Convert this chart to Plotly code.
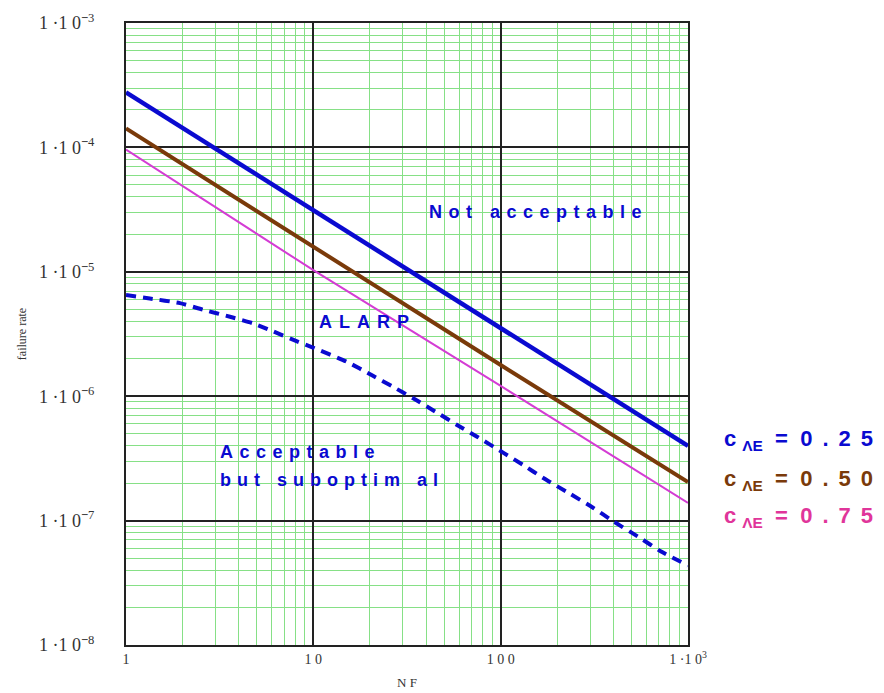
import plotly.graph_objects as go

# ---- data ----
nf_solid = [1, 10, 100, 1000]
rate_025 = [2.77e-4, 3.13e-5, 3.50e-6, 3.98e-7]
rate_050 = [1.42e-4, 1.58e-5, 1.78e-6, 2.04e-7]
rate_075 = [9.6e-5, 1.03e-5, 1.21e-6, 1.39e-7]

nf_dash = [1, 1.34, 1.94, 2.58, 3.59, 4.77, 6.10, 8.19, 9.96, 15.1, 20.8, 26.6, 34.1,
           45.8, 58.5, 74.8, 103, 132, 168, 235, 311, 398, 555, 710, 1000]
rate_dash = [6.5e-6, 6.1e-6, 5.6e-6, 4.95e-6, 4.35e-6, 3.85e-6, 3.32e-6, 2.76e-6, 2.46e-6,
             1.89e-6, 1.46e-6, 1.19e-6, 9.62e-7, 7.37e-7, 5.87e-7, 4.73e-7, 3.52e-7,
             2.80e-7, 2.21e-7, 1.64e-7, 1.27e-7, 9.9e-8, 7.25e-8, 5.7e-8, 4.35e-8]

x_tickvals = [1, 10, 100, 1000]
x_ticktext = ["1", "1 0", "1 0 0", "1 ·1 0<sup>3</sup>"]
y_tickvals = [1e-8, 1e-7, 1e-6, 1e-5, 1e-4, 1e-3]
y_ticktext = ["1 ·1 0<sup><b>−</b>8</sup>", "1 ·1 0<sup><b>−</b>7</sup>", "1 ·1 0<sup><b>−</b>6</sup>",
              "1 ·1 0<sup><b>−</b>5</sup>", "1 ·1 0<sup><b>−</b>4</sup>", "1 ·1 0<sup><b>−</b>3</sup>"]

legend_labels = ["0.25", "0.50", "0.75"]

BLUE = "#0a0ad0"
BROWN = "#7a3a0a"
MAGENTA = "#d43cd4"
PINK = "#e0359a"
GREEN = "#86e086"

minor_x = [m * 10 ** d for d in range(0, 3) for m in range(2, 10)]
minor_y = [m * 10.0 ** d for d in range(-8, -3) for m in range(2, 10)]

fig = go.Figure()
fig.add_trace(go.Scatter(x=nf_dash, y=rate_dash, mode="lines",
                         line=dict(color=BLUE, width=4, dash="10px,7px", shape="spline", smoothing=0.6),
                         showlegend=False))
fig.add_trace(go.Scatter(x=nf_solid, y=rate_075, mode="lines",
                         line=dict(color=MAGENTA, width=2), showlegend=False))
fig.add_trace(go.Scatter(x=nf_solid, y=rate_050, mode="lines",
                         line=dict(color=BROWN, width=4), showlegend=False))
fig.add_trace(go.Scatter(x=nf_solid, y=rate_025, mode="lines",
                         line=dict(color=BLUE, width=4.5), showlegend=False))

serif = "Liberation Serif, Times New Roman, serif"
sans = "Liberation Sans, Arial, sans-serif"

fig.update_xaxes(type="log", range=[0, 3], tickmode="array", tickvals=x_tickvals,
                 ticktext=x_ticktext, showgrid=True, gridcolor="#222", gridwidth=1.5,
                 showline=True, linecolor="#222", linewidth=2, mirror=True, ticks="",
                 zeroline=False, automargin=False, tickfont=dict(family=serif, size=14, color="#333"),
                 minor=dict(tickvals=minor_x, showgrid=True, gridcolor=GREEN, gridwidth=1, ticks=""),
                 title=dict(text="N F", font=dict(family=serif, size=13, color="#333"), standoff=12))
fig.update_yaxes(type="log", range=[-8, -3], tickmode="array", tickvals=y_tickvals,
                 ticktext=y_ticktext, showgrid=True, gridcolor="#222", gridwidth=1.5,
                 showline=True, linecolor="#222", linewidth=2, mirror=True, ticks="",
                 ticklabelstandoff=26, automargin=False,
                 zeroline=False, tickfont=dict(family=serif, size=18, color="#333"),
                 minor=dict(tickvals=minor_y, showgrid=True, gridcolor=GREEN, gridwidth=1, ticks=""),
                 title=dict(text="failure rate", font=dict(family=serif, size=12, color="#333"), standoff=10))

def spaced(t, ls):
    return '<span style="letter-spacing:%spx">%s</span>' % (ls, t)

fig.add_annotation(x=2.2, y=-4.52, xref="x", yref="y", text="<b>%s</b>" % spaced("Not acceptable", 6.5),
                   showarrow=False, font=dict(family=sans, size=18, color=BLUE))
fig.add_annotation(x=1.29, y=-5.4, xref="x", yref="y", text="<b>%s</b>" % spaced("ALARP", 7),
                   showarrow=False, font=dict(family=sans, size=18, color=BLUE))
fig.add_annotation(x=0.49, y=-6.45, xref="x", yref="y", xanchor="left",
                   text="<b>%s</b>" % spaced("Acceptable", 6.5), showarrow=False,
                   font=dict(family=sans, size=18, color=BLUE))
fig.add_annotation(x=0.49, y=-6.67, xref="x", yref="y", xanchor="left",
                   text="<b>%s</b>" % spaced("but suboptim al", 6), showarrow=False,
                   font=dict(family=sans, size=18, color=BLUE))

legend_colors = [BLUE, BROWN, PINK]
legend_y = [0.304, 0.2395, 0.180]
for lab, col, yy in zip(legend_labels, legend_colors, legend_y):
    fig.add_annotation(x=1.06, y=yy, xref="paper", yref="paper", xanchor="left",
                       text="<b>c <sub>ΛE</sub>  =  %s</b>" % spaced(lab, 10), showarrow=False,
                       font=dict(family=sans, size=22, color=col))

fig.update_layout(width=876, height=685, paper_bgcolor="white", plot_bgcolor="white",
                  margin=dict(l=118, r=196, t=15, b=48), showlegend=False)

fig.write_html("out.html")
